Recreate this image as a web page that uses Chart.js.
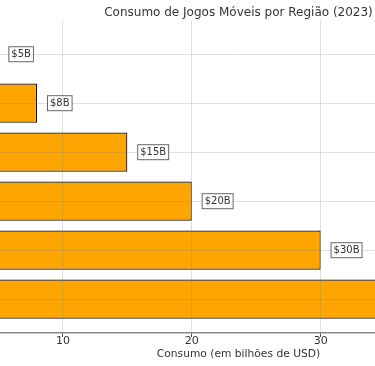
<!DOCTYPE html>
<html>
<head>
<meta charset="utf-8">
<script src="https://cdn.jsdelivr.net/npm/chart.js@4.4.0/dist/chart.umd.min.js"></script>
<style>
  html, body { margin: 0; padding: 0; background: #fff; overflow: hidden; }
  #wrap { position: absolute; left: -216px; top: 0; width: 909px; height: 366px; }
</style>
</head>
<body>
<div id="wrap"><canvas id="chart"></canvas></div>
<script>
// regiões (índice 0 fica em baixo, como no barh)
const regions = ['Ásia-Pacífico', 'América do Norte', 'Europa', 'América Latina', 'Oriente Médio', 'África'];
const consumo = [45, 30, 20, 15, 8, 5];
const xTicks = [0, 10, 20, 30, 40];

const font = 'DejaVu Sans';

// etiquetas "$xB" com caixa branca, à direita de cada barra
const valueLabels = {
    id: 'valueLabels',
    afterDraw(chart) {
        const ctx = chart.ctx;
        const xs = chart.scales.x, ys = chart.scales.y;
        ctx.save();
        ctx.font = '10px "' + font + '"';
        ctx.textBaseline = 'middle';
        ctx.textAlign = 'left';
        consumo.forEach((v, i) => {
            const txt = '$' + v + 'B';
            const x = xs.getPixelForValue(v + 1);
            const y = ys.getPixelForValue(i);
            const w = ctx.measureText(txt).width;
            ctx.fillStyle = '#fff';
            ctx.strokeStyle = '#666';
            ctx.lineWidth = 1;
            ctx.fillRect(x - 3, y - 8, w + 6, 16);
            ctx.strokeRect(x - 2.5, y - 7.5, w + 5, 15);
            ctx.fillStyle = '#333';
            ctx.fillText(txt, x, y + 0.5);
        });
        ctx.restore();
    }
};

const ctx = document.getElementById('chart').getContext('2d');
new Chart(ctx, {
    type: 'bar',
    data: {
        datasets: [{
            data: consumo.map((v, i) => ({ x: v, y: i })),
            backgroundColor: '#FFA500',
            borderColor: '#111',
            borderWidth: 1.2,
            borderSkipped: false,
            categoryPercentage: 1,
            barPercentage: 0.8
        }]
    },
    options: {
        indexAxis: 'y',
        responsive: true,
        maintainAspectRatio: false,
        animation: false,
        layout: { padding: { left: 150, right: 150, top: 0, bottom: 0 } },
        scales: {
            x: {
                type: 'linear',
                min: 0,
                max: 47.25,
                offset: false,
                afterFit: (s) => { s.height = 33; },
                afterBuildTicks: (s) => { s.ticks = xTicks.map(v => ({ value: v })); },
                ticks: {
                    color: '#333',
                    padding: -2.5,
                    font: { family: font, size: 11 }
                },
                grid: {
                    z: 1,
                    offset: false,
                    color: 'rgba(128,128,128,0.25)',
                    borderDash: [3, 2],
                    tickColor: '#555',
                    tickLength: 4,
                    tickBorderDash: []
                },
                border: { display: true, z: 1, color: '#888', width: 1.4 },
                title: {
                    display: true,
                    text: 'Consumo (em bilhões de USD)',
                    color: '#333',
                    font: { family: font, size: 10.7 },
                    padding: { top: 0, bottom: 5 }
                }
            },
            y: {
                type: 'linear',
                min: -0.69,
                max: 5.69,
                offset: false,
                afterFit: (s) => { s.width = 0; },
                afterBuildTicks: (s) => { s.ticks = regions.map((r, i) => ({ value: i })); },
                ticks: {
                    color: '#333',
                    font: { family: font, size: 11 },
                    callback: (v) => regions[v] || ''
                },
                grid: {
                    z: 1,
                    offset: false,
                    color: 'rgba(128,128,128,0.25)',
                    borderDash: [3, 2],
                    drawTicks: false
                },
                border: { display: false }
            }
        },
        plugins: {
            legend: { display: false },
            tooltip: { enabled: false },
            title: {
                display: true,
                text: 'Consumo de Jogos Móveis por Região (2023)',
                color: '#333',
                font: { family: font, size: 12, weight: 'normal' },
                padding: { top: 6, bottom: 0 }
            }
        }
    },
    plugins: [valueLabels]
});
</script>
</body>
</html>
